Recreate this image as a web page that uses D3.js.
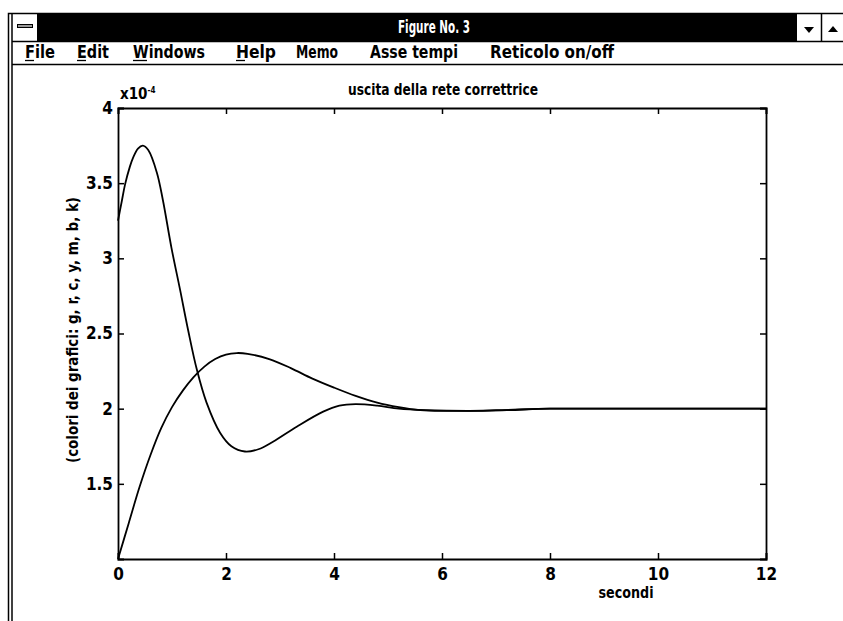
<!DOCTYPE html>
<html>
<head>
<meta charset="utf-8">
<script src="https://cdn.jsdelivr.net/npm/d3@7"></script>
<style>
body { margin: 0; background: #fff; }
svg { display: block; }
</style>
</head>
<body>
<div id="Main_Part"></div>
<script>
// window chrome texts
var WindowTitle = "Figure No. 3";
var MenuItems = ["File", "Edit", "Windows", "Help", "Memo", "Asse tempi", "Reticolo on/off"];
var MenuX = [25, 77, 133, 236, 296, 370, 490];
var MenuW = [30, 32, 72, 40, 42, 88, 124];
var MenuUnderline = [1, 1, 1, 1, 0, 0, 0];

// chart texts and ticks
var ChartTitle = "uscita della rete correttrice";
var XLabel = "secondi";
var YLabel = "(colori dei grafici: g, r, c, y, m, b, k)";
var XTicks = [0, 2, 4, 6, 8, 10, 12];
var YTicks = [1.5, 2, 2.5, 3, 3.5, 4];

// curve 1 (high peak, then undershoot)
var TimeA = [0, 0.07, 0.13, 0.22, 0.28, 0.37, 0.46, 0.56, 0.72, 0.83, 0.99, 1.15, 1.30, 1.46, 1.64, 1.89, 2.1, 2.35, 2.6, 2.87, 3.31, 3.8, 4.1, 4.4, 4.8, 5.2, 5.7, 6.5, 7.2, 8, 9, 10, 11, 12];
var ValueA = [3.25, 3.38, 3.49, 3.61, 3.67, 3.73, 3.75, 3.72, 3.57, 3.39, 3.07, 2.79, 2.52, 2.26, 2.04, 1.84, 1.75, 1.715, 1.73, 1.78, 1.88, 1.98, 2.02, 2.03, 2.02, 2.0, 1.99, 1.985, 1.99, 2.0, 2.0, 2.0, 2.0, 2.0];

// curve 2 (slow rise, small overshoot)
var TimeB = [0, 0.2, 0.4, 0.6, 0.8, 1.0, 1.2, 1.4, 1.6, 1.8, 2.0, 2.2, 2.4, 2.8, 3.2, 3.6, 4.0, 4.4, 4.8, 5.2, 5.6, 6.0, 7.0, 8, 9, 10, 11, 12];
var ValueB = [1.0, 1.24, 1.48, 1.69, 1.87, 2.01, 2.12, 2.21, 2.28, 2.33, 2.36, 2.37, 2.365, 2.33, 2.27, 2.2, 2.14, 2.085, 2.04, 2.01, 1.99, 1.985, 1.99, 2.0, 2.0, 2.0, 2.0, 2.0];

var Width = 843, Height = 621;
var PlotLeft = 118, PlotRight = 766, PlotTop = 108, PlotBottom = 559;
var NarrowFont = "'Liberation Sans Narrow', 'DejaVu Sans Condensed', sans-serif";

var svg = d3.select('#Main_Part')
	.append("svg")
	.attr("width", Width)
	.attr("height", Height);

// ---- window frame ----
svg.append("rect")
	.attr("x", 8.5).attr("y", 13.5)
	.attr("width", 845).attr("height", 620)
	.style("fill", "white").style("stroke", "black").style("stroke-width", 1.5);

svg.append("line")
	.attr("x1", 12).attr("x2", 12).attr("y1", 14).attr("y2", Height)
	.style("stroke", "black").style("stroke-width", 1.5);

svg.append("rect")
	.attr("x", 37).attr("y", 14)
	.attr("width", 760).attr("height", 27)
	.style("fill", "black");

// system menu box
svg.append("rect")
	.attr("x", 17.5).attr("y", 24.5)
	.attr("width", 15).attr("height", 3)
	.style("fill", "#999").style("stroke", "black");

svg.append("line")
	.attr("x1", 12).attr("x2", Width).attr("y1", 41.5).attr("y2", 41.5)
	.style("stroke", "black").style("stroke-width", 1.5);

svg.append("line")
	.attr("x1", 12).attr("x2", Width).attr("y1", 64.5).attr("y2", 64.5)
	.style("stroke", "black").style("stroke-width", 1.5);

// scroll arrows at the right of the title bar
svg.append("line")
	.attr("x1", 821.5).attr("x2", 821.5).attr("y1", 14).attr("y2", 41)
	.style("stroke", "black").style("stroke-width", 1.5);

svg.append("path")
	.attr("d", "M804,27 L814,27 L809,33 Z")
	.style("fill", "black");

svg.append("path")
	.attr("d", "M828,32 L838,32 L833,26 Z")
	.style("fill", "black");

svg.append("text")
	.attr("x", 434)
	.attr("y", 33)
	.attr("text-anchor", "middle")
	.attr("textLength", 72)
	.attr("lengthAdjust", "spacingAndGlyphs")
	.text(WindowTitle)
	.style("font-family", NarrowFont)
	.style("font-weight", "bold")
	.style("font-size", "17px")
	.style("fill", "white");

svg.selectAll(".menu")
	.data(MenuItems)
	.enter()
	.append("text")
	.attr("class", "menu")
	.attr("x", function(d, i) { return MenuX[i]; })
	.attr("y", 58)
	.attr("textLength", function(d, i) { return MenuW[i]; })
	.attr("lengthAdjust", "spacingAndGlyphs")
	.text(function(d) { return d; })
	.style("font-family", NarrowFont)
	.style("font-weight", "bold")
	.style("font-size", "17px")
	.style("fill", "black");

svg.selectAll(".underline")
	.data(MenuItems.filter(function(d, i) { return MenuUnderline[i]; }))
	.enter()
	.append("line")
	.attr("x1", function(d, i) { return MenuX[i]; })
	.attr("x2", function(d, i) { return MenuX[i] + (d[0] == "W" ? 14 : 9); })
	.attr("y1", 60.5).attr("y2", 60.5)
	.style("stroke", "black").style("stroke-width", 1.3);

// ---- plot ----
var x = d3.scaleLinear().domain([0, 12]).range([PlotLeft, PlotRight]);
var y = d3.scaleLinear().domain([1, 4]).range([PlotBottom, PlotTop]);

var Plot = svg.append("g");

Plot.append("g")
	.attr("transform", "translate(0," + PlotBottom + ")")
	.call(d3.axisBottom(x).tickValues(XTicks).tickSize(-6).tickPadding(9).tickFormat(d3.format("d")));

Plot.append("g")
	.attr("transform", "translate(0," + PlotTop + ")")
	.call(d3.axisTop(x).tickValues(XTicks).tickSize(-6).tickFormat(""));

Plot.append("g")
	.attr("transform", "translate(" + PlotLeft + ",0)")
	.call(d3.axisLeft(y).tickValues(YTicks).tickSize(-6).tickPadding(5).tickFormat(d3.format("")));

Plot.append("g")
	.attr("transform", "translate(" + PlotRight + ",0)")
	.call(d3.axisRight(y).tickValues(YTicks).tickSize(-6).tickFormat(""));

Plot.selectAll(".domain")
	.style("stroke", "black").style("stroke-width", 1.8);
Plot.selectAll(".tick line")
	.style("stroke", "black").style("stroke-width", 1.5);
Plot.selectAll(".tick text")
	.style("font-family", NarrowFont)
	.style("font-weight", "bold")
	.style("font-size", "17px")
	.style("fill", "black");

var Line = d3.line()
	.x(function(d) { return x(d[0]); })
	.y(function(d) { return y(d[1]); })
	.curve(d3.curveCatmullRom.alpha(0.5));

Plot.append("path")
	.attr("d", Line(d3.zip(TimeA, ValueA)))
	.style("fill", "none").style("stroke", "black").style("stroke-width", 1.8);

Plot.append("path")
	.attr("d", Line(d3.zip(TimeB, ValueB)))
	.style("fill", "none").style("stroke", "black").style("stroke-width", 1.8);

// labels
svg.append("text")
	.attr("x", 443)
	.attr("y", 95)
	.attr("text-anchor", "middle")
	.attr("textLength", 190)
	.attr("lengthAdjust", "spacingAndGlyphs")
	.text(ChartTitle)
	.style("font-family", NarrowFont)
	.style("font-weight", "bold")
	.style("font-size", "15px")
	.style("fill", "black");

svg.append("text")
	.attr("x", 626)
	.attr("y", 598)
	.attr("text-anchor", "middle")
	.attr("textLength", 55)
	.attr("lengthAdjust", "spacingAndGlyphs")
	.text(XLabel)
	.style("font-family", NarrowFont)
	.style("font-weight", "bold")
	.style("font-size", "16px")
	.style("fill", "black");

svg.append("text")
	.attr("transform", "translate(78,330) rotate(-90)")
	.attr("text-anchor", "middle")
	.attr("textLength", 266)
	.attr("lengthAdjust", "spacingAndGlyphs")
	.text(YLabel)
	.style("font-family", NarrowFont)
	.style("font-weight", "bold")
	.style("font-size", "15px")
	.style("fill", "black");

var Exponent = svg.append("text")
	.attr("x", 120)
	.attr("y", 99)
	.style("font-family", NarrowFont)
	.style("font-weight", "bold")
	.style("font-size", "15px")
	.style("fill", "black");
Exponent.append("tspan").text("x10");
Exponent.append("tspan").attr("dy", -6).style("font-size", "8px").text("-4");
</script>
</body>
</html>
